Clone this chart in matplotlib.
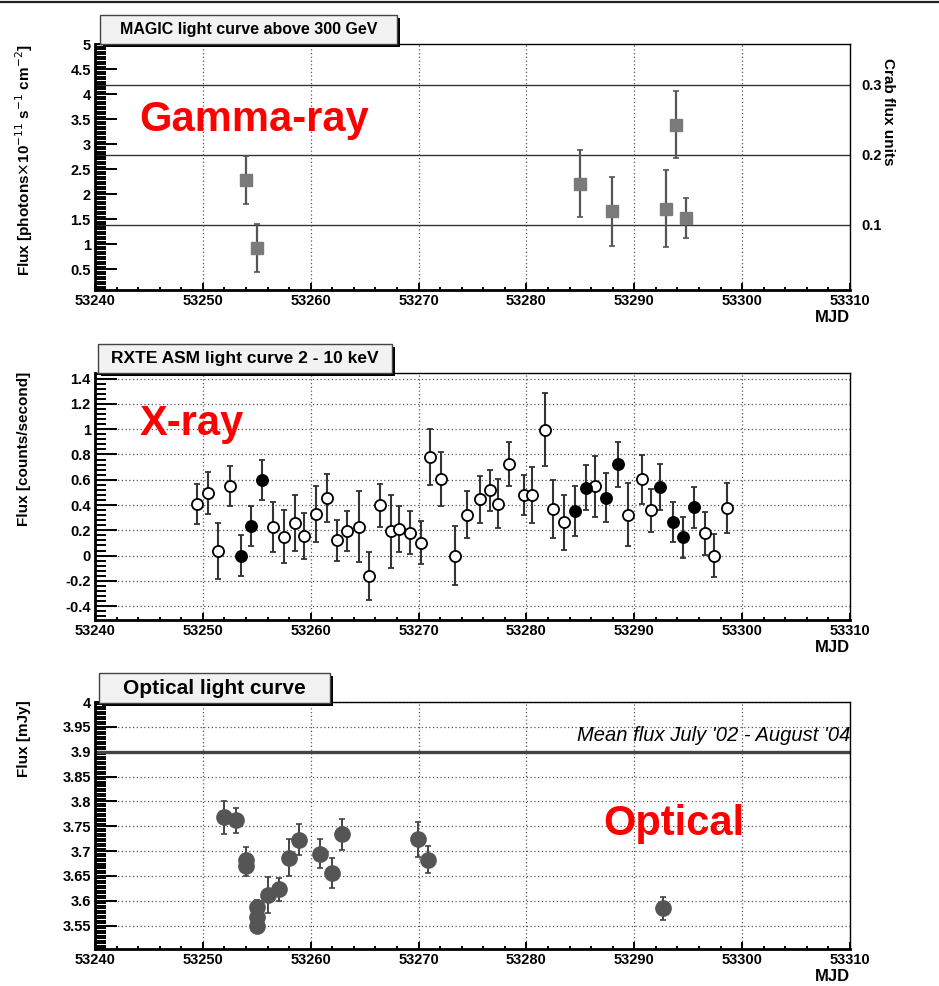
import numpy as np
import matplotlib
matplotlib.use('Agg')
import matplotlib.pyplot as plt
from matplotlib.patches import Rectangle
from matplotlib.ticker import MultipleLocator, FormatStrFormatter

plt.rcParams['font.family'] = ['Liberation Sans', 'DejaVu Sans']

# MAGIC gamma-ray light curve (> 300 GeV)
gamma_mjd = [53254.0, 53255.0, 53285.0, 53287.9, 53292.9, 53293.9, 53294.8]
gamma_flux = [2.28, 0.92, 2.21, 1.66, 1.71, 3.39, 1.53]
gamma_err = [0.48, 0.48, 0.67, 0.69, 0.77, 0.67, 0.40]
CRAB = 13.95  # flux of 1 Crab unit
crab_levels = [0.1, 0.2, 0.3]

# RXTE ASM X-ray light curve (2-10 keV)
xray_mjd = [53249.5, 53250.5, 53251.4, 53252.5, 53253.5, 53254.5, 53255.5,
            53256.5, 53257.5, 53258.5, 53259.4, 53260.5, 53261.5, 53262.4,
            53263.4, 53264.5, 53265.4, 53266.4, 53267.4, 53268.2, 53269.2,
            53270.2, 53271.1, 53272.1, 53273.4, 53274.5, 53275.7, 53276.6,
            53277.4, 53278.4, 53279.75, 53280.55, 53281.7, 53282.5, 53283.5,
            53284.5, 53285.5, 53286.4, 53287.4, 53288.5, 53289.45, 53290.7,
            53291.55, 53292.4, 53293.6, 53294.5, 53295.5, 53296.6, 53297.4,
            53298.55]
xray_flux = [0.41, 0.495, 0.037, 0.55, 0.0, 0.235, 0.60,
             0.227, 0.148, 0.26, 0.156, 0.33, 0.455, 0.12,
             0.196, 0.23, -0.16, 0.40, 0.193, 0.21, 0.18,
             0.10, 0.778, 0.606, 0.0, 0.323, 0.444, 0.516,
             0.41, 0.725, 0.479, 0.479, 0.995, 0.37, 0.262,
             0.354, 0.537, 0.548, 0.458, 0.722, 0.323, 0.603,
             0.36, 0.542, 0.265, 0.143, 0.381, 0.177, 0.0,
             0.376]
xray_err = [0.16, 0.165, 0.22, 0.155, 0.165, 0.16, 0.16,
            0.20, 0.21, 0.22, 0.18, 0.22, 0.19, 0.16,
            0.16, 0.28, 0.19, 0.17, 0.29, 0.18, 0.17,
            0.17, 0.22, 0.21, 0.235, 0.185, 0.185, 0.165,
            0.195, 0.175, 0.16, 0.22, 0.29, 0.23, 0.215,
            0.20, 0.18, 0.24, 0.195, 0.18, 0.25, 0.195,
            0.17, 0.18, 0.16, 0.16, 0.16, 0.17, 0.17,
            0.20]
xray_simult = [0, 0, 0, 0, 1, 1, 1,
               0, 0, 0, 0, 0, 0, 0,
               0, 0, 0, 0, 0, 0, 0,
               0, 0, 0, 0, 0, 0, 0,
               0, 0, 0, 0, 0, 0, 0,
               1, 1, 0, 1, 1, 0, 0,
               0, 1, 1, 1, 1, 0, 0,
               0]

# Optical light curve
opt_mjd = [53252.0, 53253.1, 53254.0, 53254.0, 53255.0, 53255.0, 53255.0,
           53256.0, 53257.05, 53257.95, 53258.9, 53260.9, 53261.95, 53262.9,
           53269.95, 53270.9, 53292.7]
opt_flux = [3.768, 3.762, 3.683, 3.670, 3.587, 3.568, 3.550,
            3.612, 3.623, 3.687, 3.723, 3.695, 3.656, 3.734,
            3.724, 3.683, 3.585]
opt_err = [0.033, 0.025, 0.025, 0.02, 0.015, 0.015, 0.015,
           0.036, 0.023, 0.037, 0.031, 0.030, 0.030, 0.031,
           0.035, 0.028, 0.023]
opt_mean = 3.9

W, H = 939, 986


def style_axes(ax, ymajor, yminor, yfmt):
    ax.set_xlim(53240, 53310)
    ax.xaxis.set_major_locator(MultipleLocator(10))
    ax.xaxis.set_minor_locator(MultipleLocator(2))
    ax.yaxis.set_major_locator(MultipleLocator(ymajor))
    ax.yaxis.set_minor_locator(MultipleLocator(yminor))
    ax.yaxis.set_major_formatter(FormatStrFormatter(yfmt))
    ax.tick_params(axis='y', which='major', direction='in', length=16, width=1.4,
                   labelsize=10.5, pad=3)
    ax.tick_params(axis='y', which='minor', direction='in', length=8, width=1.4)
    ax.tick_params(axis='x', which='major', direction='in', length=5, width=1.4,
                   labelsize=10.5, pad=3)
    ax.tick_params(axis='x', which='minor', direction='in', length=2.5, width=1.4)
    for lab in ax.get_xticklabels() + ax.get_yticklabels():
        lab.set_fontweight('bold')
    ax.spines['left'].set_linewidth(2.0)
    ax.spines['bottom'].set_linewidth(2.0)
    ax.spines['top'].set_linewidth(1.0)
    ax.spines['right'].set_linewidth(1.0)
    ax.xaxis.grid(True, which='major', linestyle=(0, (1, 2)), color='#555555', lw=0.9)
    ax.set_xlabel('MJD', loc='right', fontsize=12, fontweight='bold', labelpad=1)


def title_box(fig, x0, y0, w, h, text, size):
    # pixel coordinates (top-left origin) -> figure fraction
    fx, fy = x0 / W, 1 - (y0 + h) / H
    fig.patches.append(Rectangle((fx + 3 / W, fy - 3 / H), w / W, h / H,
                                 transform=fig.transFigure, facecolor='black',
                                 edgecolor='none', zorder=5))
    fig.patches.append(Rectangle((fx, fy), w / W, h / H, transform=fig.transFigure,
                                 facecolor='#f2f2f2', edgecolor='#444444', lw=1.0,
                                 zorder=6))
    fig.text(fx + w / W / 2, fy + h / H / 2, text, ha='center', va='center',
             fontsize=size, fontweight='bold', zorder=7)


def y_label(fig, x, y_top, text):
    fig.text(x / W, 1 - y_top / H, text, rotation=90, ha='center', va='top',
             fontsize=11, fontweight='bold')


fig = plt.figure(figsize=(W / 100, H / 100), dpi=100)

# top line across the page
fig.add_artist(plt.Line2D([0, 1], [1 - 1.5 / H, 1 - 1.5 / H], color='#222222', lw=1.6,
                          transform=fig.transFigure))

ax1 = fig.add_axes([95 / W, 1 - 290 / H, 755 / W, 246 / H])
ax2 = fig.add_axes([95 / W, 1 - 620 / H, 755 / W, 247 / H])
ax3 = fig.add_axes([95 / W, 1 - 949 / H, 755 / W, 247 / H])

# ---- gamma-ray panel
style_axes(ax1, 0.5, 0.05, '%g')
ax1.set_ylim(0.09, 5.0)
for lvl in crab_levels:
    ax1.axhline(lvl * CRAB, color='#333333', lw=1.0, zorder=1)
ax1.errorbar(gamma_mjd, gamma_flux, yerr=gamma_err, fmt='s', ms=9, color='#7a7a7a',
             mec='#7a7a7a', ecolor='#555555', elinewidth=1.6, capsize=2.5, capthick=1.2,
             zorder=3)
ax1r = ax1.twinx()
ax1r.set_ylim(0.09 / CRAB, 5.0 / CRAB)
ax1r.set_yticks(crab_levels)
ax1r.yaxis.set_major_formatter(FormatStrFormatter('%g'))
ax1r.tick_params(axis='y', length=0, labelsize=10.5, pad=8)
for lab in ax1r.get_yticklabels():
    lab.set_fontweight('bold')
for s in ax1r.spines.values():
    s.set_visible(False)
fig.text(888 / W, 1 - 58 / H, 'Crab flux units', rotation=270, ha='center', va='top',
         fontsize=11, fontweight='bold')
ax1.text(53244.1, 3.26, 'Gamma-ray', color='red', fontsize=30, fontweight='bold',
         ha='left', va='baseline', zorder=4)
y_label(fig, 24, 44, r'Flux [photons$\times$10$^{-11}$ s$^{-1}$ cm$^{-2}$]')
title_box(fig, 100, 15, 297, 29, 'MAGIC light curve above 300 GeV', 11.5)

# ---- X-ray panel
style_axes(ax2, 0.2, 0.04, '%g')
ax2.set_ylim(-0.51, 1.445)
ax2.yaxis.grid(True, which='major', linestyle=(0, (1, 2)), color='#555555', lw=0.9)
simult = np.array(xray_simult, dtype=bool)
xm, xf, xe = np.array(xray_mjd), np.array(xray_flux), np.array(xray_err)
ax2.errorbar(xm[~simult], xf[~simult], yerr=xe[~simult], fmt='o', ms=8, mfc='white',
             mec='black', mew=1.3, ecolor='#333333', elinewidth=1.5, capsize=2,
             capthick=1.0, zorder=3)
ax2.errorbar(xm[simult], xf[simult], yerr=xe[simult], fmt='o', ms=8, mfc='black',
             mec='black', mew=1.3, ecolor='#333333', elinewidth=1.5, capsize=2,
             capthick=1.0, zorder=3)
ax2.text(53244.1, 0.957, 'X-ray', color='red', fontsize=30, fontweight='bold',
         ha='left', va='baseline', zorder=4)
y_label(fig, 24, 372, 'Flux [counts/second]')
title_box(fig, 98, 344, 294, 29, 'RXTE ASM light curve 2 - 10 keV', 12.5)

# ---- optical panel
style_axes(ax3, 0.05, 0.005, '%g')
ax3.set_ylim(3.503, 4.0)
ax3.yaxis.grid(True, which='major', linestyle=(0, (1, 2)), color='#555555', lw=0.9)
ax3.axhline(opt_mean, color='#444444', lw=2.4, zorder=2)
ax3.errorbar(opt_mjd, opt_flux, yerr=opt_err, fmt='o', ms=11, color='#555555',
             mec='#555555', ecolor='#444444', elinewidth=1.4, capsize=2.5,
             capthick=1.2, zorder=3)
ax3.text(53310, 3.922, "Mean flux July '02 - August '04", fontsize=14.5,
         fontstyle='italic', ha='right', va='baseline', zorder=4)
ax3.text(53287.1, 3.732, 'Optical', color='red', fontsize=30, fontweight='bold',
         ha='left', va='baseline', zorder=4)
y_label(fig, 24, 700, 'Flux [mJy]')
title_box(fig, 99, 673, 231, 30, 'Optical light curve', 15)

plt.savefig('out.png', dpi=100)
